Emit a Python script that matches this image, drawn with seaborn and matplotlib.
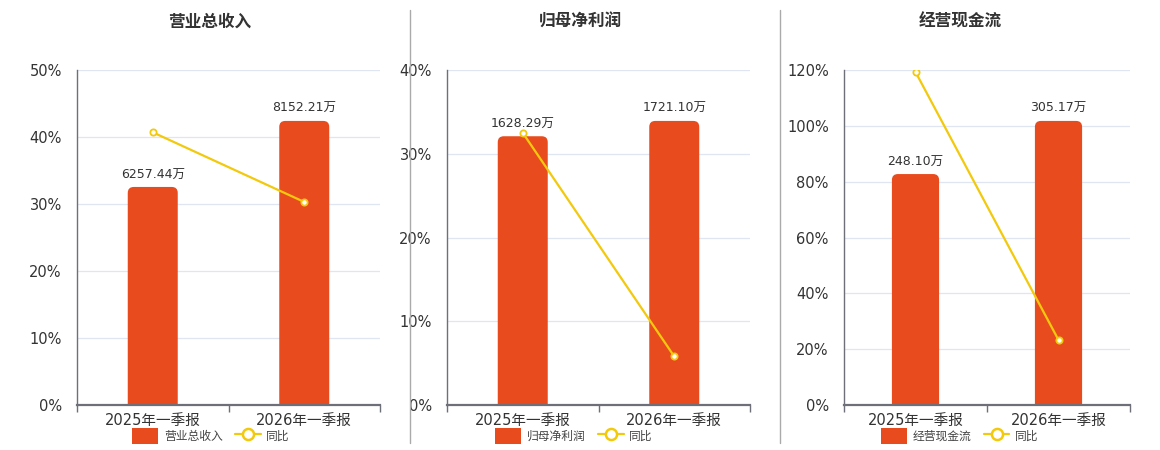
import numpy as np
import matplotlib
matplotlib.use("Agg")
import matplotlib.pyplot as plt
import seaborn as sns
from matplotlib.patches import FancyBboxPatch, Patch
from matplotlib.lines import Line2D
from matplotlib.ticker import FuncFormatter

# data
periods = ["2025年一季报", "2026年一季报"]
titles = ["营业总收入", "归母净利润", "经营现金流"]
revenue = [6257.44, 8152.21]
revenue_yoy = [40.7, 30.3]
profit = [1628.29, 1721.10]
profit_yoy = [32.5, 5.8]
cashflow = [248.10, 305.17]
cashflow_yoy = [119.3, 23.3]
pct_ticks = [[0, 10, 20, 30, 40, 50], [0, 10, 20, 30, 40], [0, 20, 40, 60, 80, 100, 120]]

BAR = "#E84C1E"
LINE = "#F2C90D"
AXIS = "#6E7079"
GRID = "#E0E6F1"
TXT = "#333333"

sns.set_theme(style="white")
plt.rcParams["font.family"] = ["DejaVu Sans", "Noto Sans CJK SC"]

fig = plt.figure(figsize=(11.6, 4.5), dpi=100)
W, H = 1160, 450

# panel boxes in pixels: left, right
boxes = [(77, 380), (447, 750), (844, 1130)]
title_x = [210, 580, 960]
legend_x = [211, 574, 960]
top_px, base_px = 70, 405

panels = [(revenue, revenue_yoy), (profit, profit_yoy), (cashflow, cashflow_yoy)]

for i, ((vals, yoy), (l, r)) in enumerate(zip(panels, boxes)):
    ax_bar = fig.add_axes([l / W, 1 - base_px / H, (r - l) / W, (base_px - top_px) / H])
    sns.barplot(x=periods, y=vals, ax=ax_bar, color=BAR, saturation=1, width=0.33)
    ax_bar.set_xlim(-0.5, 1.5)
    bar_max = max(vals) / 0.848
    ax_bar.set_ylim(0, bar_max)
    ticks = pct_ticks[i]
    ax_bar.set_yticks(np.linspace(0, bar_max, len(ticks)))
    ax_bar.yaxis.grid(True, color=GRID, lw=0.9)
    ax_bar.set_axisbelow(True)
    ax_bar.bar_label(ax_bar.containers[0], labels=[f"{v:.2f}万" for v in vals],
                     padding=4, fontsize=9, color=TXT)

    # rounded tops
    ax_w_px = r - l
    ax_h_px = base_px - top_px
    rx = 6 / (ax_w_px / 2.0)
    ry = 6 / ax_h_px * bar_max
    for p in list(ax_bar.patches):
        x, y, w, h = p.get_x(), p.get_y(), p.get_width(), p.get_height()
        fb = FancyBboxPatch((x, y - 2 * ry), w, h + 2 * ry,
                            boxstyle=f"round,pad=0,rounding_size={rx}",
                            mutation_aspect=ry / rx, fc=BAR, ec="none", zorder=2)
        p.remove()
        ax_bar.add_patch(fb)

    for s in ax_bar.spines.values():
        s.set_visible(False)

    ax_pct = ax_bar.twinx()
    # twinx turns the left ticks back on
    ax_bar.tick_params(axis="y", which="both", left=False, right=False,
                       labelleft=False, labelright=False)
    sns.lineplot(x=[0, 1], y=yoy, ax=ax_pct, color=LINE, lw=1.6, marker="o",
                 markersize=4.5, markerfacecolor="white", markeredgecolor=LINE,
                 markeredgewidth=1.3, sort=False)
    ax_pct.set_xlim(-0.5, 1.5)
    ax_pct.set_ylim(ticks[0], ticks[-1])
    ax_pct.set_yticks(ticks)
    ax_pct.yaxis.set_major_formatter(FuncFormatter(lambda v, _: f"{v:.0f}%"))
    ax_pct.yaxis.tick_left()
    ax_pct.tick_params(axis="y", which="both", left=False, right=False,
                       labelleft=True, labelright=False, pad=5,
                       labelsize=10.5, labelcolor=TXT)
    ax_pct.set_ylabel("")
    ax_pct.grid(False)
    for side in ["top", "right"]:
        ax_pct.spines[side].set_visible(False)
    ax_pct.spines["left"].set_color(AXIS)
    ax_pct.spines["left"].set_linewidth(1)
    ax_pct.spines["bottom"].set_color(AXIS)
    ax_pct.spines["bottom"].set_linewidth(1.6)
    ax_pct.spines["bottom"].set_visible(True)

    ax_bar.set_xticks([0, 1])
    ax_bar.set_xticklabels(periods)
    ax_bar.set_xticks([-0.5, 0.5, 1.5], minor=True)
    ax_bar.tick_params(axis="x", which="major", length=0, pad=6, labelsize=10.5, labelcolor=TXT)
    ax_bar.tick_params(axis="x", which="minor", bottom=True, length=5, width=1, color=AXIS)
    ax_pct.tick_params(axis="x", bottom=False, labelbottom=False)

    fig.text(title_x[i] / W, 1 - 22 / H, titles[i], ha="center", va="center",
             fontsize=12, fontweight="bold", color=TXT)

    handles = [Patch(facecolor=BAR, edgecolor="none", label=titles[i]),
               Line2D([0], [0], color=LINE, lw=1.6, marker="o", markersize=8,
                      markerfacecolor="white", markeredgecolor=LINE, markeredgewidth=1.8, label="同比")]
    fig.legend(handles=handles, loc="center", bbox_to_anchor=(legend_x[i] / W, 1 - 436 / H),
               ncol=2, frameon=False, fontsize=8.5, handlelength=2.2, handleheight=1.6,
               columnspacing=1.0, handletextpad=0.5, labelcolor="#444444")

for sx in [410, 780]:
    fig.add_artist(Line2D([sx / W, sx / W], [1 - 10 / H, 1 - 443 / H], color="#AAAAAA", lw=1))

fig.savefig("out.png", dpi=100, facecolor="white")
